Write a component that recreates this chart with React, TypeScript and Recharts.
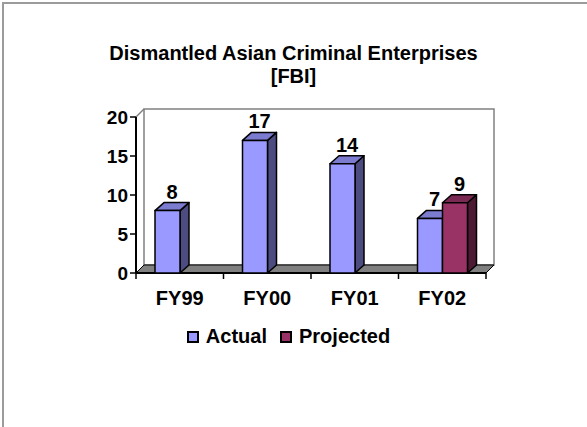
import React from 'react'
import { BarChart, Bar, XAxis, YAxis, LabelList, ReferenceArea } from 'recharts'

const fiscalYears = ['FY99', 'FY00', 'FY01', 'FY02']
const actual = [8, 17, 14, 7]
const projected: (number | null)[] = [null, null, null, 9]
const yTicks = [0, 5, 10, 15, 20]

const rows = fiscalYears.map((fy, i) => ({
  fy,
  actual: actual[i],
  projected: projected[i],
}))

const FONT = 'Arial, "Liberation Sans", Helvetica, sans-serif'

// depth of the fake 3D extrusion
const DX = 9
const DY = 8
const WALL = 8

const palette = {
  actual: { front: '#9999FF', top: '#7B7BCF', side: '#4C4C80' },
  projected: { front: '#993366', top: '#7A2952', side: '#4D1A33' },
}

function makeBox(c: { front: string; top: string; side: string }) {
  return (props: any) => {
    const { x, y, width, height } = props
    if (height == null || isNaN(height) || width <= 0) return null
    const r = x + width
    const b = y + height
    return (
      <g stroke="#000" strokeWidth={1.5} strokeLinejoin="round">
        <polygon
          points={`${r},${y} ${r + DX},${y - DY} ${r + DX},${b - DY} ${r},${b}`}
          fill={c.side}
        />
        <polygon
          points={`${x},${y} ${x + DX},${y - DY} ${r + DX},${y - DY} ${r},${y}`}
          fill={c.top}
        />
        <rect x={x} y={y} width={width} height={height} fill={c.front} />
      </g>
    )
  }
}

// back wall, side wall and floor behind the bars
function Walls(props: any) {
  const { x, y, width, height } = props
  const r = x + width
  const b = y + height
  const n = fiscalYears.length
  const step = width / n
  return (
    <g>
      <polygon
        points={`${x + WALL},${y - WALL} ${r + WALL},${y - WALL} ${r + WALL},${b - WALL} ${x + WALL},${b - WALL}`}
        fill="#fff"
        stroke="#808080"
        strokeWidth={1.5}
      />
      <line x1={x} y1={y} x2={x + WALL} y2={y - WALL} stroke="#808080" strokeWidth={1.5} />
      <polygon
        points={`${x},${b} ${r},${b} ${r + WALL},${b - WALL} ${x + WALL},${b - WALL}`}
        fill="#808080"
        stroke="#000"
        strokeWidth={1}
      />
      {Array.from({ length: n + 1 }, (_, i) => (
        <line
          key={i}
          x1={x + step * i}
          y1={b}
          x2={x + step * i}
          y2={b + 6}
          stroke="#000"
          strokeWidth={1.5}
        />
      ))}
      <line x1={x} y1={b} x2={r} y2={b} stroke="#000" strokeWidth={2} />
    </g>
  )
}

function ValueLabel(props: any) {
  const { x, y, width, value } = props
  if (value == null) return null
  return (
    <text
      x={x + width / 2 + DX / 2}
      y={y - DY - 4}
      textAnchor="middle"
      fontFamily={FONT}
      fontWeight="bold"
      fontSize={20}
      fill="#000"
    >
      {value}
    </text>
  )
}

const series = [
  { key: 'actual', name: 'Actual', color: palette.actual.front },
  { key: 'projected', name: 'Projected', color: palette.projected.front },
]

export default function App() {
  return (
    <div
      style={{
        position: 'absolute',
        left: 0,
        top: 0,
        width: 587,
        height: 427,
        background: '#fff',
        fontFamily: FONT,
        overflow: 'hidden',
      }}
    >
      <div
        style={{
          position: 'absolute',
          left: 2,
          top: 2,
          width: 600,
          height: 440,
          borderTop: '2px solid #9b9b9b',
          borderLeft: '2px solid #9b9b9b',
        }}
      />
      <div
        style={{
          position: 'absolute',
          left: 0,
          top: 42,
          width: 587,
          textAlign: 'center',
          fontWeight: 'bold',
          fontSize: 20,
          lineHeight: '23px',
          color: '#000',
        }}
      >
        Dismantled Asian Criminal Enterprises
        <br />
        [FBI]
      </div>
      <BarChart
        width={587}
        height={427}
        data={rows}
        margin={{ top: 117, right: 101, bottom: 124, left: 76 }}
        barGap={0}
        barSize={25}
        style={{ position: 'absolute', left: 0, top: 0 }}
      >
        <ReferenceArea y1={0} y2={20} shape={<Walls />} ifOverflow="visible" />
        <XAxis
          dataKey="fy"
          height={30}
          axisLine={false}
          tickLine={false}
          tick={{ fontFamily: FONT, fontWeight: 'bold', fontSize: 20, fill: '#000' }}
          tickMargin={12}
        />
        <YAxis
          width={60}
          domain={[0, 20]}
          ticks={yTicks}
          axisLine={{ stroke: '#000', strokeWidth: 2 }}
          tickLine={{ stroke: '#000', strokeWidth: 1.5 }}
          tickSize={6}
          tick={{ fontFamily: FONT, fontWeight: 'bold', fontSize: 19, fill: '#000' }}
          tickMargin={2}
        />
        <Bar
          dataKey="actual"
          name="Actual"
          shape={makeBox(palette.actual)}
          isAnimationActive={false}
        >
          <LabelList dataKey="actual" content={<ValueLabel />} />
        </Bar>
        <Bar
          dataKey="projected"
          name="Projected"
          shape={makeBox(palette.projected)}
          isAnimationActive={false}
        >
          <LabelList dataKey="projected" content={<ValueLabel />} />
        </Bar>
      </BarChart>
      <div
        style={{
          position: 'absolute',
          left: 0,
          top: 325,
          width: 587,
          display: 'flex',
          justifyContent: 'center',
          gap: 13,
          paddingRight: 10,
          boxSizing: 'border-box',
          fontWeight: 'bold',
          fontSize: 20,
          lineHeight: '23px',
          color: '#000',
        }}
      >
        {series.map((s) => (
          <span key={s.key} style={{ display: 'inline-flex', alignItems: 'center' }}>
            <span
              style={{
                display: 'inline-block',
                width: 8,
                height: 8,
                background: s.color,
                border: '2px solid #000',
                marginRight: 7,
              }}
            />
            {s.name}
          </span>
        ))}
      </div>
    </div>
  )
}
